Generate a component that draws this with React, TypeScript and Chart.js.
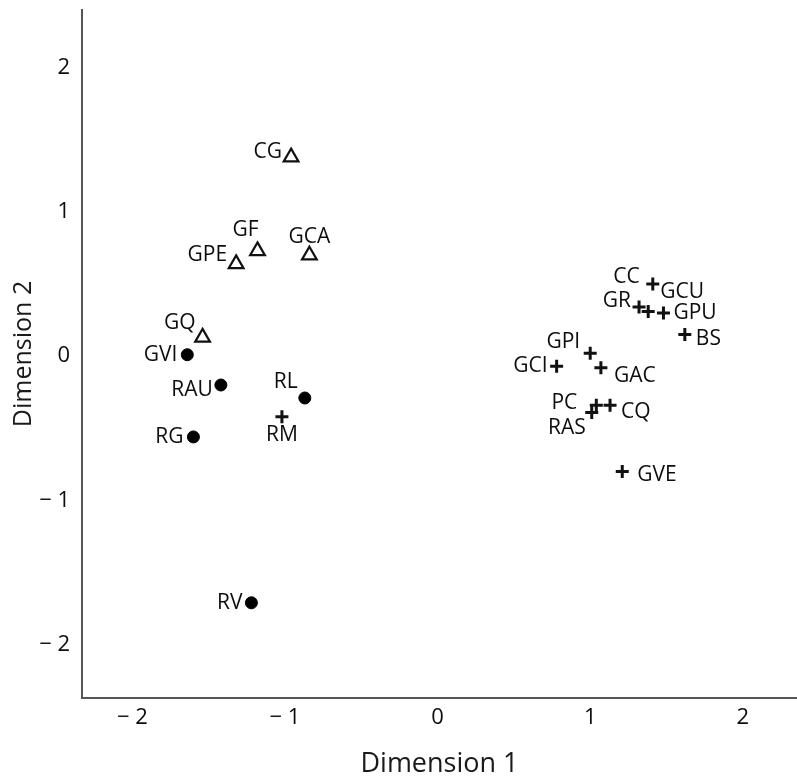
import React, { useEffect, useRef } from 'react';
import { Chart, registerables } from 'chart.js';

Chart.register(...registerables);

// ---- data ----
const triangleNames = ['CG', 'GF', 'GPE', 'GCA', 'GQ'];
const triangleX = [-0.96, -1.18, -1.32, -0.84, -1.54];
const triangleY = [1.38, 0.73, 0.64, 0.70, 0.13];

const circleNames = ['GVI', 'RAU', 'RL', 'RG', 'RV'];
const circleX = [-1.64, -1.42, -0.87, -1.60, -1.22];
const circleY = [0.01, -0.20, -0.29, -0.56, -1.71];

const crossNames = ['RM', 'CC', 'GR', 'GCU', 'GPU', 'BS', 'GPI', 'GCI', 'GAC', 'PC', 'CQ', 'RAS', 'GVE'];
const crossX = [-1.02, 1.41, 1.32, 1.38, 1.48, 1.62, 1.00, 0.78, 1.07, 1.04, 1.13, 1.01, 1.21];
const crossY = [-0.42, 0.50, 0.34, 0.31, 0.30, 0.15, 0.02, -0.07, -0.08, -0.34, -0.34, -0.39, -0.80];

const xTicks = [-2, -1, 0, 1, 2];
const yTicks = [-2, -1, 0, 1, 2];
const xTitle = 'Dimension 1';
const yTitle = 'Dimension 2';

// ---- label placement (side, gap px, vertical nudge px) ----
type Place = [string, number, number];
const trianglePlaces: Place[] = [
  ['left', 9, -5], ['above', 12, -21], ['left', 9, -9], ['above', 0, -18], ['left', 7, -14],
];
const circlePlaces: Place[] = [
  ['left', 10, 0], ['left', 8, 5], ['above', 19, -16], ['left', 10, 0], ['left', 9, 0],
];
const crossPlaces: Place[] = [
  ['below', 0, 18], ['left', 13, -7], ['left', 8, -6], ['right', 12, -19], ['right', 10, 0],
  ['right', 11, 4], ['left', 10, -11], ['left', 9, 0], ['right', 13, 8], ['left', 19, -2],
  ['right', 11, 7], ['left', 6, 16], ['right', 15, 3],
];

const FONT = '"Open Sans", "Noto Sans", sans-serif';

const toPoints = (xs: number[], ys: number[]) => xs.map((x, i) => ({ x, y: ys[i] }));

const fmt = (v: number) => (v < 0 ? '\u2212 ' + Math.abs(v) : String(v));

const labelPlugin = {
  id: 'pointNames',
  afterDatasetsDraw(chart: any) {
    const ctx = chart.ctx;
    ctx.save();
    ctx.font = `21px ${FONT}`;
    ctx.fillStyle = '#0d0d0d';
    ctx.textBaseline = 'middle';
    chart.data.datasets.forEach((ds: any, di: number) => {
      const meta = chart.getDatasetMeta(di);
      meta.data.forEach((el: any, i: number) => {
        const name = ds.names[i];
        const [side, gap, dy] = ds.places[i] as Place;
        let x = el.x;
        const y = el.y + dy;
        if (side === 'left') {
          ctx.textAlign = 'right';
          x = el.x - gap;
        } else if (side === 'right') {
          ctx.textAlign = 'left';
          x = el.x + gap;
        } else {
          ctx.textAlign = 'center';
          x = el.x - gap;
        }
        ctx.fillText(name, x, y);
      });
    });
    ctx.restore();
  },
};

const zeroPad = (s: any) => {
  s.paddingTop = 0;
  s.paddingBottom = 0;
  s.paddingLeft = 0;
  s.paddingRight = 0;
};

export default function App() {
  const ref = useRef<HTMLCanvasElement>(null);

  useEffect(() => {
    let chart: Chart | null = null;
    let cancelled = false;
    const make = () => {
      if (cancelled || !ref.current) return;
      const tickFont = { family: FONT, size: 22 };
      chart = new Chart(ref.current, {
        type: 'scatter',
        data: {
          datasets: [
            {
              data: toPoints(triangleX, triangleY),
              names: triangleNames,
              places: trianglePlaces,
              pointStyle: 'triangle',
              pointRadius: 8.5,
              pointBorderWidth: 2.2,
              pointBorderColor: '#111',
              pointBackgroundColor: 'rgba(255,255,255,0)',
            } as any,
            {
              data: toPoints(circleX, circleY),
              names: circleNames,
              places: circlePlaces,
              pointStyle: 'circle',
              pointRadius: 6,
              pointBorderWidth: 1,
              pointBorderColor: '#000',
              pointBackgroundColor: '#000',
            } as any,
            {
              data: toPoints(crossX, crossY),
              names: crossNames,
              places: crossPlaces,
              pointStyle: 'cross',
              pointRadius: 6.5,
              pointBorderWidth: 3,
              pointBorderColor: '#111',
            } as any,
          ],
        },
        options: {
          animation: false,
          responsive: false,
          layout: { autoPadding: false, padding: { top: 10, right: 0, left: 0, bottom: 0 } },
          plugins: {
            legend: { display: false },
            tooltip: { enabled: false },
          },
          scales: {
            x: {
              type: 'linear',
              position: 'bottom',
              min: -2.33,
              max: 2.355,
              grid: { display: false, drawTicks: false },
              border: { display: true, color: '#555', width: 2 },
              ticks: { font: tickFont, color: '#0d0d0d', padding: 7, callback: (v: any) => fmt(Number(v)) },
              title: {
                display: true,
                text: xTitle,
                color: '#1a1a1a',
                font: { family: FONT, size: 27, lineHeight: 1 },
                padding: { top: 0, bottom: 0 },
              },
              afterBuildTicks: (s: any) => {
                s.ticks = xTicks.map((v) => ({ value: v }));
              },
              afterFit: (s: any) => {
                s.height = 80;
                zeroPad(s);
              },
            },
            y: {
              type: 'linear',
              min: -2.37,
              max: 2.4,
              grid: { display: false, drawTicks: false },
              border: { display: true, color: '#555', width: 2 },
              ticks: { font: tickFont, color: '#0d0d0d', padding: 12, callback: (v: any) => fmt(Number(v)) },
              title: {
                display: true,
                text: yTitle,
                color: '#1a1a1a',
                font: { family: FONT, size: 25, lineHeight: 1 },
                padding: { top: 11, bottom: 0 },
              },
              afterBuildTicks: (s: any) => {
                s.ticks = yTicks.map((v) => ({ value: v }));
              },
              afterFit: (s: any) => {
                s.width = 82;
                zeroPad(s);
              },
            },
          },
        },
        plugins: [labelPlugin],
      } as any);
    };
    if ((document as any).fonts && (document as any).fonts.load) {
      (document as any).fonts.load(`20px "Open Sans"`).then(make, make);
    } else {
      make();
    }
    return () => {
      cancelled = true;
      if (chart) chart.destroy();
    };
  }, []);

  return (
    <div style={{ position: 'absolute', left: 0, top: 0, width: 797, height: 778, background: '#fff' }}>
      <canvas ref={ref} width={797} height={778} />
    </div>
  );
}
